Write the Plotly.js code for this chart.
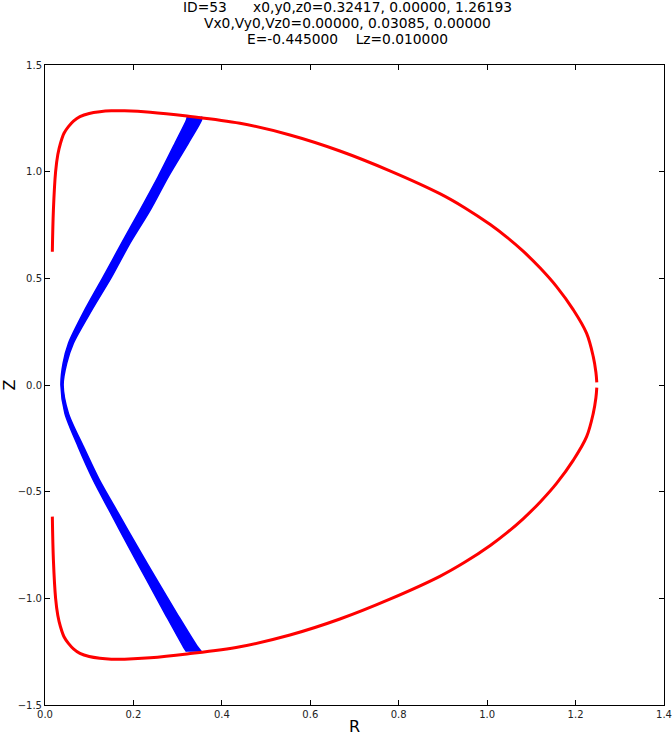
<!DOCTYPE html>
<html>
<head>
<meta charset="utf-8">
<script src="https://cdn.plot.ly/plotly-3.0.1.min.js"></script>
<style>html,body{margin:0;padding:0;background:#fff;}#chart{width:672px;height:736px;}</style>
</head>
<body>
<div id="chart"></div>
<script>
// Zero-velocity curve (red), upper branch
const zvcUpperR = [0.0166,0.019,0.024,0.029,0.035,0.043,0.053,0.065,0.079,0.100,0.124,0.150,0.180,0.238,0.321,0.441,0.554,0.667,0.780,0.893,0.950,1.007,1.045,1.082,1.120,1.157,1.195,1.225,1.240,1.246,1.248];
const zvcUpperZ = [0.625,0.820,1.000,1.080,1.133,1.180,1.211,1.238,1.258,1.273,1.281,1.285,1.285,1.279,1.261,1.227,1.172,1.097,1.004,0.897,0.830,0.752,0.692,0.626,0.548,0.461,0.352,0.242,0.133,0.060,0.012];
// Zero-velocity curve (red), lower branch
const zvcLowerR = [0.0166,0.019,0.024,0.029,0.035,0.043,0.053,0.065,0.079,0.100,0.124,0.150,0.180,0.238,0.321,0.441,0.554,0.667,0.780,0.893,0.950,1.007,1.045,1.082,1.120,1.157,1.195,1.225,1.240,1.246,1.248];
const zvcLowerZ = [-0.617,-0.820,-1.000,-1.080,-1.133,-1.180,-1.211,-1.238,-1.258,-1.273,-1.281,-1.285,-1.285,-1.279,-1.261,-1.227,-1.172,-1.097,-1.004,-0.897,-0.830,-0.752,-0.692,-0.626,-0.548,-0.461,-0.352,-0.242,-0.133,-0.060,-0.012];

// Orbit band (blue): inner and outer edges, both listed top to bottom
const orbitZ      = [1.258,1.242,1.133,0.977,0.820,0.664,0.508,0.352,0.195,0.102,0.000,-0.133,-0.289,-0.445,-0.602,-0.758,-0.914,-1.070,-1.227,-1.250];
const orbitInnerR = [0.322,0.320,0.294,0.256,0.215,0.173,0.132,0.090,0.053,0.041,0.036,0.045,0.075,0.109,0.149,0.189,0.230,0.271,0.313,0.320];
const orbitOuterR = [0.355,0.354,0.324,0.279,0.238,0.192,0.151,0.106,0.064,0.049,0.041,0.053,0.087,0.123,0.166,0.209,0.253,0.298,0.345,0.354];

const titleLines = [
  'ID=53\u00a0\u00a0\u00a0\u00a0\u00a0\u00a0x0,y0,z0=0.32417, 0.00000, 1.26193',
  'Vx0,Vy0,Vz0=0.00000, 0.03085, 0.00000',
  'E=-0.445000\u00a0\u00a0\u00a0\u00a0Lz=0.010000'
];
const xTicks = [0.0,0.2,0.4,0.6,0.8,1.0,1.2,1.4];
const yTicks = [-1.5,-1.0,-0.5,0.0,0.5,1.0,1.5];

const traces = [
  {x: orbitInnerR, y: orbitZ, mode: 'lines', line: {color: '#0000ff', width: 1.5, shape: 'spline', smoothing: 0.8},
   hoverinfo: 'skip', showlegend: false},
  {x: orbitOuterR, y: orbitZ, mode: 'lines', fill: 'tonextx', fillcolor: '#0000ff',
   line: {color: '#0000ff', width: 1.5, shape: 'spline', smoothing: 0.8}, hoverinfo: 'skip', showlegend: false},
  {x: zvcUpperR, y: zvcUpperZ, mode: 'lines', line: {color: '#ff0000', width: 3, shape: 'spline', smoothing: 1}, showlegend: false},
  {x: zvcLowerR, y: zvcLowerZ, mode: 'lines', line: {color: '#ff0000', width: 3, shape: 'spline', smoothing: 1}, showlegend: false}
];

const axisCommon = {
  showgrid: false, zeroline: false, showline: true, linecolor: '#000', linewidth: 1,
  mirror: 'ticks', ticks: 'inside', ticklen: 5, tickcolor: '#000', tickwidth: 1,
  tickfont: {family: 'DejaVu Sans', size: 10, color: '#222'}
};

const plotTop = 65, plotH = 640;
const titleCentersPx = [7, 23, 39];
const annotations = titleLines.map((t, i) => ({
  text: t, showarrow: false, xref: 'paper', yref: 'paper',
  x: (347 - 45) / 619, xanchor: 'center',
  y: 1 + (plotTop - titleCentersPx[i]) / plotH, yanchor: 'middle',
  font: {family: 'DejaVu Sans', size: 13.8, color: '#000'}
}));

const layout = {
  width: 672, height: 736,
  margin: {l: 45, r: 8, t: plotTop, b: 31},
  paper_bgcolor: '#fff', plot_bgcolor: '#fff',
  annotations: annotations,
  xaxis: Object.assign({}, axisCommon, {range: [0, 1.4], tickvals: xTicks, ticktext: xTicks.map(v => v.toFixed(1)),
          title: {text: 'R', font: {family: 'DejaVu Sans', size: 16, color: '#000'}, standoff: 4}}),
  yaxis: Object.assign({}, axisCommon, {range: [-1.5, 1.5], tickvals: yTicks, ticktext: yTicks.map(v => (v < 0 ? '\u2212' : '') + Math.abs(v).toFixed(1)),
          title: {text: 'Z', font: {family: 'DejaVu Sans', size: 16, color: '#000'}, standoff: 4}})
};

Plotly.newPlot('chart', traces, layout, {displayModeBar: false, staticPlot: true});
</script>
</body>
</html>
